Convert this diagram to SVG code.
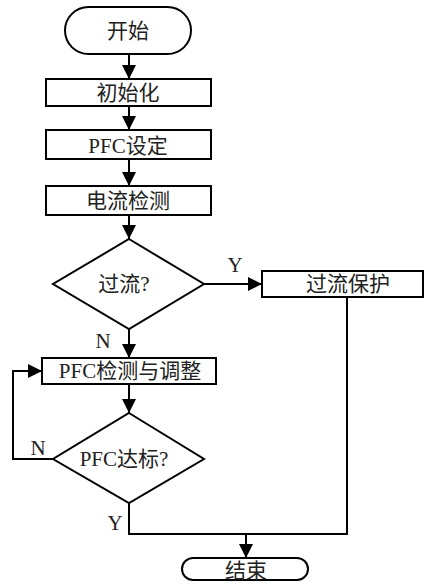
<svg xmlns="http://www.w3.org/2000/svg" width="424" height="585" viewBox="0 0 424 585">
<defs>
<marker id="ah" viewBox="0 0 14 14" refX="14" refY="7" markerWidth="14" markerHeight="14" markerUnits="userSpaceOnUse" orient="auto">
<path d="M0,0 L14,7 L0,14 Z" fill="#000"/>
</marker>
<style>
.s{fill:#fff;stroke:#000;stroke-width:2}
.c{fill:none;stroke:#000;stroke-width:2}
.t{font-family:"Liberation Serif","Noto Sans CJK SC",serif;font-size:21px;fill:#222;text-anchor:middle}
.l{font-family:"Liberation Serif",serif;font-size:21px;fill:#222;text-anchor:middle}
</style>
</defs>
<rect width="424" height="585" fill="#fff"/>
<g id="connectors">
<line class="c" x1="129" y1="54" x2="129" y2="79" marker-end="url(#ah)"/>
<line class="c" x1="129" y1="106" x2="129" y2="130" marker-end="url(#ah)"/>
<line class="c" x1="129" y1="159" x2="129" y2="186" marker-end="url(#ah)"/>
<line class="c" x1="129" y1="215" x2="129" y2="239" marker-end="url(#ah)"/>
<line class="c" x1="204" y1="284" x2="262" y2="284" marker-end="url(#ah)"/>
<line class="c" x1="129" y1="329" x2="129" y2="358" marker-end="url(#ah)"/>
<line class="c" x1="129" y1="384" x2="129" y2="413" marker-end="url(#ah)"/>
<polyline class="c" points="53,459 13,459 13,371 42,371" marker-end="url(#ah)"/>
<polyline class="c" points="129,503 129,534 347,534 347,297"/>
<line class="c" x1="246" y1="534" x2="246" y2="558" marker-end="url(#ah)"/>
<text class="l" x="235" y="272">Y</text>
<text class="l" x="103" y="348">N</text>
<text class="l" x="38" y="455">N</text>
<text class="l" x="115" y="530">Y</text>
</g>
<g id="start">
<rect class="s" x="65" y="7" width="126" height="47" rx="23.5"/>
<text class="t" x="128" y="38">开始</text>
</g>
<g id="init">
<rect class="s" x="46" y="79" width="165" height="27"/>
<text class="t" x="128" y="100">初始化</text>
</g>
<g id="pfcset">
<rect class="s" x="46" y="130" width="165" height="29"/>
<text class="t" x="128" y="153">PFC设定</text>
</g>
<g id="detect">
<rect class="s" x="46" y="186" width="165" height="29"/>
<text class="t" x="128" y="208">电流检测</text>
</g>
<g id="overcurrent">
<polygon class="s" points="129,239 204,284 129,329 53,284"/>
<text class="t" x="124" y="291">过流?</text>
</g>
<g id="protect">
<rect class="s" x="262" y="271" width="161" height="26"/>
<text class="t" x="348" y="291">过流保护</text>
</g>
<g id="adjust">
<rect class="s" x="42" y="358" width="174" height="26"/>
<text class="t" x="130" y="378">PFC检测与调整</text>
</g>
<g id="pfcok">
<polygon class="s" points="129,413 204,459 129,503 53,459"/>
<text class="t" x="124" y="466">PFC达标?</text>
</g>
<g id="end">
<rect class="s" x="182" y="558" width="126" height="22" rx="11"/>
<text class="t" x="246" y="578">结束</text>
</g>
</svg>
